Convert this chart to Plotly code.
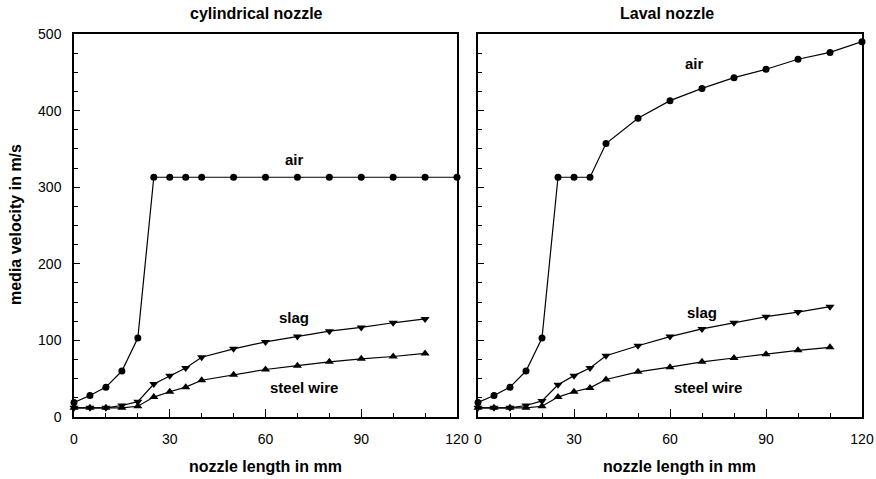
import plotly.graph_objects as go

x_vals = [0, 5, 10, 15, 20, 25, 30, 35, 40, 50, 60, 70, 80, 90, 100, 110, 120]
x_solid = [0, 5, 10, 15, 20, 25, 30, 35, 40, 50, 60, 70, 80, 90, 100, 110]

cyl_air = [19, 28, 39, 60, 103, 313, 313, 313, 313, 313, 313, 313, 313, 313, 313, 313, 313]
cyl_slag = [12, 12, 12, 15, 20, 43, 54, 64, 78, 89, 98, 105, 112, 117, 123, 128]
cyl_wire = [12, 12, 12, 12, 14, 26, 33, 39, 48, 55, 62, 67, 72, 76, 79, 83]

lav_air = [19, 28, 39, 60, 103, 313, 313, 313, 357, 390, 413, 429, 443, 454, 467, 476, 490]
lav_slag = [12, 12, 12, 15, 21, 42, 54, 64, 80, 93, 105, 115, 123, 131, 137, 144]
lav_wire = [12, 12, 12, 12, 14, 26, 33, 38, 49, 59, 65, 72, 77, 82, 87, 91]

panel_titles = ["cylindrical nozzle", "Laval nozzle"]
x_title = "nozzle length in mm"
y_title = "media velocity in m/s"
x_ticks = [0, 30, 60, 90, 120]
y_ticks = [0, 100, 200, 300, 400, 500]

FONT = "Liberation Sans, Arial, sans-serif"

fig = go.Figure()

def add_series(x, y, symbol, size, xa, ya):
    fig.add_trace(go.Scatter(
        x=x, y=y, mode="lines+markers", xaxis=xa, yaxis=ya,
        line=dict(color="black", width=1.2),
        marker=dict(symbol=symbol, size=size, color="black"),
        cliponaxis=False, showlegend=False, hoverinfo="x+y"))

for xa, ya, air, slag, wire in [("x", "y", cyl_air, cyl_slag, cyl_wire),
                                ("x2", "y2", lav_air, lav_slag, lav_wire)]:
    add_series(x_vals, air, "circle", 7, xa, ya)
    add_series(x_solid, slag, "triangle-down", 8, xa, ya)
    add_series(x_solid, wire, "triangle-up", 8, xa, ya)

axis_common = dict(showline=True, linecolor="black", linewidth=1.5, mirror=True,
                   ticks="inside", tickcolor="black", showgrid=False, zeroline=False,
                   automargin=False,
                   tickfont=dict(family=FONT, size=14, color="black"))

xdoms = [[74 / 876, 457 / 876], [478 / 876, 862 / 876]]
ydom = [1 - 417 / 479, 1 - 34 / 479]

layout = dict(
    width=876, height=479, margin=dict(l=0, r=0, t=0, b=0, autoexpand=False),
    plot_bgcolor="white", paper_bgcolor="white",
    font=dict(family=FONT, color="black"),
    showlegend=False,
)
for i in range(2):
    sfx = "" if i == 0 else "2"
    layout["xaxis" + sfx] = dict(axis_common, domain=xdoms[i], range=[0, 120],
                                 tickvals=x_ticks, ticklen=8, tickwidth=1.2,
                                 ticklabelstandoff=8,
                                 minor=dict(dtick=10, tick0=0, ticklen=4, ticks="inside", tickcolor="black", tickwidth=1.2),
                                 anchor="y" + sfx)
    layout["yaxis" + sfx] = dict(axis_common, domain=ydom, range=[0, 500],
                                 tickvals=y_ticks, ticklen=6, tickwidth=1.2,
                                 ticklabelstandoff=8,
                                 minor=dict(dtick=25, tick0=0, ticklen=4, ticks="inside", tickcolor="black", tickwidth=1.2),
                                 anchor="x" + sfx, showticklabels=(i == 0))
fig.update_layout(**layout)

annots = []
title_x = [256, 667]
for i, t in enumerate(panel_titles):
    annots.append(dict(text="<b>%s</b>" % t, xref="paper", yref="paper",
                       x=title_x[i] / 876, y=1 - 13 / 479,
                       showarrow=False, font=dict(family=FONT, size=16), yanchor="middle", xanchor="center"))
xt_x = [265, 679]
for i in range(2):
    annots.append(dict(text="<b>%s</b>" % x_title, xref="paper", yref="paper",
                       x=xt_x[i] / 876, y=1 - 466 / 479,
                       showarrow=False, font=dict(family=FONT, size=16), yanchor="middle", xanchor="center"))
annots.append(dict(text="<b>%s</b>" % y_title, xref="paper", yref="paper",
                   x=15 / 876, y=1 - 225 / 479, textangle=-90,
                   showarrow=False, font=dict(family=FONT, size=16), yanchor="middle", xanchor="center"))

labels = [("x", "y", "air", 69, 336), ("x", "y", "slag", 69, 130), ("x", "y", "steel wire", 72, 38),
          ("x2", "y2", "air", 67.6, 462), ("x2", "y2", "slag", 70, 136), ("x2", "y2", "steel wire", 72, 38)]
for xa, ya, t, xx, yy in labels:
    annots.append(dict(text="<b>%s</b>" % t, xref=xa, yref=ya, x=xx, y=yy, showarrow=False,
                       font=dict(family=FONT, size=15)))
fig.update_layout(annotations=annots)

fig.write_html("out.html")
